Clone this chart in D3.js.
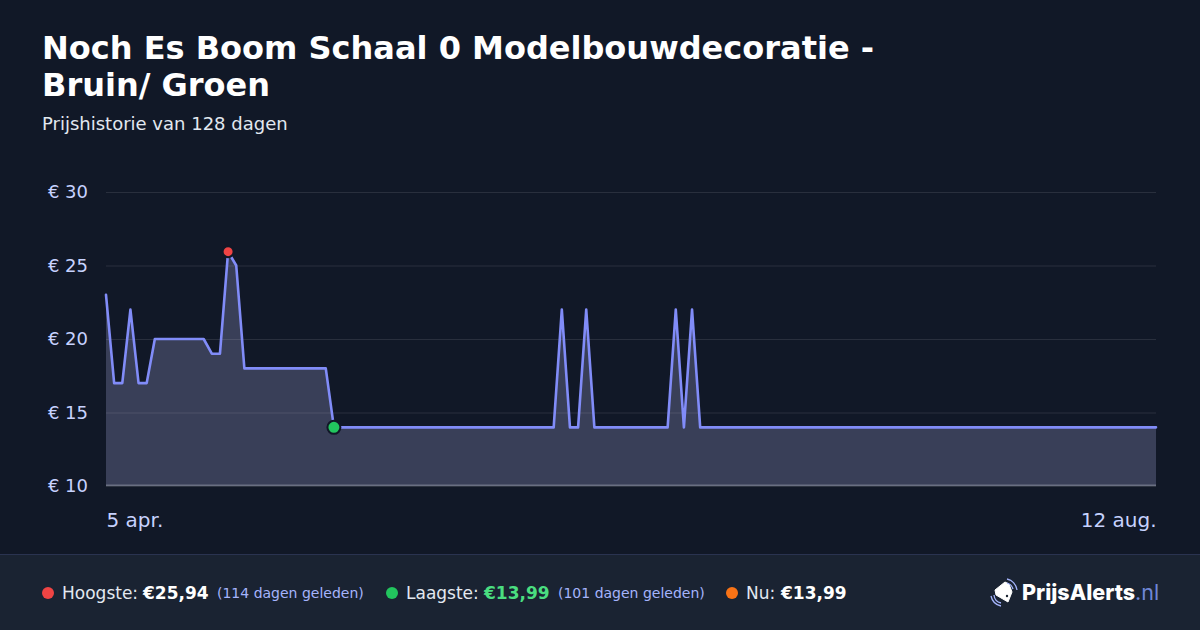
<!DOCTYPE html>
<html>
<head>
<meta charset="utf-8">
<script src="https://cdn.jsdelivr.net/npm/d3@7"></script>
<style>
  html, body { margin: 0; padding: 0; background: #111827; }
  svg { display: block; font-family: "DejaVu Sans", sans-serif; }
  .axis { font-family: "DejaVu Sans", sans-serif; }
  .axis .domain { display: none; }
  .axis .tick line { stroke: #fff; stroke-opacity: 0.1; }
  .axis .tick text { fill: #c7d2fe; font-size: 18px; }
  .x-axis .tick text { font-size: 20px; }
</style>
</head>
<body>
<svg id="chart" width="1200" height="630"></svg>
<script>
var titleLines = ["Noch Es Boom Schaal 0 Modelbouwdecoratie -", "Bruin/ Groen"];
var subtitle = "Prijshistorie van 128 dagen";

// one price per day, 5 apr. to 12 aug.
var prices = [
  23, 17, 17, 22, 17, 17, 20, 20, 20, 20,
  20, 20, 20, 19, 19, 25.94, 25, 18, 18, 18,
  18, 18, 18, 18, 18, 18, 18, 18, 13.99, 13.99,
  13.99, 13.99, 13.99, 13.99, 13.99, 13.99, 13.99, 13.99, 13.99, 13.99,
  13.99, 13.99, 13.99, 13.99, 13.99, 13.99, 13.99, 13.99, 13.99, 13.99,
  13.99, 13.99, 13.99, 13.99, 13.99, 13.99, 22, 13.99, 13.99, 22,
  13.99, 13.99, 13.99, 13.99, 13.99, 13.99, 13.99, 13.99, 13.99, 13.99,
  22, 13.99, 22, 13.99, 13.99, 13.99, 13.99, 13.99, 13.99, 13.99,
  13.99, 13.99, 13.99, 13.99, 13.99, 13.99, 13.99, 13.99, 13.99, 13.99,
  13.99, 13.99, 13.99, 13.99, 13.99, 13.99, 13.99, 13.99, 13.99, 13.99,
  13.99, 13.99, 13.99, 13.99, 13.99, 13.99, 13.99, 13.99, 13.99, 13.99,
  13.99, 13.99, 13.99, 13.99, 13.99, 13.99, 13.99, 13.99, 13.99, 13.99,
  13.99, 13.99, 13.99, 13.99, 13.99, 13.99, 13.99, 13.99, 13.99, 13.99
];
var yTicks = [10, 15, 20, 25, 30];
var xLabels = ["5 apr.", "12 aug."];

var highest = { label: "Hoogste:", price: "€25,94", ago: "(114 dagen geleden)" };
var lowest = { label: "Laagste:", price: "€13,99", ago: "(101 dagen geleden)" };
var current = { label: "Nu:", price: "€13,99" };

var svg = d3.select("#chart");
var plotLeft = 106, plotRight = 1156, plotTop = 192, plotBottom = 486;

var x = d3.scaleLinear().domain([0, prices.length - 1]).range([plotLeft, plotRight]);
var y = d3.scaleLinear().domain([10, 30]).range([plotBottom, plotTop]);

svg.append("rect").attr("width", 1200).attr("height", 630).attr("fill", "#111827");

// title block
svg.selectAll("text.title")
  .data(titleLines)
  .enter().append("text")
  .attr("class", "title")
  .attr("x", 42)
  .attr("y", function (d, i) { return 59 + i * 37; })
  .attr("fill", "#fff")
  .attr("font-size", 32)
  .attr("font-weight", 700)
  .text(function (d) { return d; });

svg.append("text")
  .attr("x", 42).attr("y", 130)
  .attr("fill", "#e2e8f0")
  .attr("font-size", 18)
  .text(subtitle);

var area = d3.area()
  .x(function (d, i) { return x(i); })
  .y0(plotBottom)
  .y1(function (d) { return y(d); });

var line = d3.line()
  .x(function (d, i) { return x(i); })
  .y(function (d) { return y(d); });

svg.append("path")
  .attr("d", area(prices))
  .attr("fill", "#999aca")
  .attr("fill-opacity", 0.3);

// y axis with gridlines, over the area
var yAxis = d3.axisLeft(y)
  .tickValues(yTicks)
  .tickSize(-(plotRight - plotLeft))
  .tickPadding(18)
  .tickFormat(function (d) { return "€ " + d; });

var yg = svg.append("g")
  .attr("class", "axis")
  .attr("transform", "translate(" + plotLeft + ",0)")
  .call(yAxis);

// bottom gridline is the baseline, a bit stronger
yg.selectAll(".tick line")
  .filter(function (d) { return d === 10; })
  .attr("y1", -1)
  .attr("y2", -1)
  .style("stroke-opacity", 0.25)
  .style("stroke-width", 2);

// x labels only at both ends
var xAxis = d3.axisBottom(x)
  .tickValues([0, prices.length - 1])
  .tickSize(0)
  .tickPadding(27)
  .tickFormat(function (d, i) { return xLabels[i]; });

var xg = svg.append("g")
  .attr("class", "axis x-axis")
  .attr("transform", "translate(0," + plotBottom + ")")
  .call(xAxis);
xg.selectAll(".tick text")
  .attr("text-anchor", function (d, i) { return i === 0 ? "start" : "end"; });

svg.append("path")
  .attr("d", line(prices))
  .attr("fill", "none")
  .attr("stroke", "#818cf8")
  .attr("stroke-width", 2.6)
  .attr("stroke-linejoin", "round")
  .attr("stroke-linecap", "round");

// markers for max and min
var maxIndex = prices.indexOf(d3.max(prices));
var minIndex = prices.indexOf(d3.min(prices));

svg.append("circle")
  .attr("cx", x(maxIndex)).attr("cy", y(prices[maxIndex])).attr("r", 5.5)
  .attr("fill", "#ef4444").attr("stroke", "#111827").attr("stroke-width", 2);
svg.append("circle")
  .attr("cx", x(minIndex)).attr("cy", y(prices[minIndex])).attr("r", 6.5)
  .attr("fill", "#22c55e").attr("stroke", "#111827").attr("stroke-width", 2);

// footer
svg.append("rect")
  .attr("x", 0).attr("y", 554).attr("width", 1200).attr("height", 76)
  .attr("fill", "#1a2332");
svg.append("rect")
  .attr("x", 0).attr("y", 554).attr("width", 1200).attr("height", 1)
  .attr("fill", "#2a3350");

function stat(dotX, color, item, labelX, priceX, priceColor, agoX) {
  svg.append("circle").attr("cx", dotX).attr("cy", 593).attr("r", 6).attr("fill", color);
  svg.append("text").attr("x", labelX).attr("y", 599)
    .attr("fill", "#e2e8f0").attr("font-size", 17).text(item.label);
  svg.append("text").attr("x", priceX).attr("y", 599)
    .attr("fill", priceColor).attr("font-size", 17).attr("font-weight", 700).text(item.price);
  if (item.ago) {
    svg.append("text").attr("x", agoX).attr("y", 598)
      .attr("fill", "#a5b4fc").attr("font-size", 14).text(item.ago);
  }
}
stat(48, "#ef4444", highest, 62, 143, "#fff", 217);
stat(392, "#22c55e", lowest, 406, 484, "#4ade80", 558);
stat(732, "#f97316", current, 746, 781, "#fff");

// logo
var logo = svg.append("g").attr("transform", "translate(990,578)");
logo.append("path")
  .attr("d", "M15 4 L5 12 L6 17 L18 24 L22 14 L19 6 Z")
  .attr("fill", "#fff")
  .attr("stroke", "#fff")
  .attr("stroke-linejoin", "round");
logo.append("circle").attr("cx", 17).attr("cy", 18).attr("r", 1.2).attr("fill", "#1a2332");
logo.append("path")
  .attr("d", "M17 1 A13 13 0 0 1 27 12 M17 5 A9 9 0 0 1 23 11 M1 18 A13 13 0 0 0 11 28 M4 17 A9 9 0 0 0 11 25")
  .attr("fill", "none").attr("stroke", "#a5b4fc").attr("stroke-width", 1.3);

var logoText = svg.append("text")
  .attr("x", 1022).attr("y", 600)
  .attr("font-family", "Inter")
  .attr("font-size", 21.5)
  .attr("font-weight", 800)
  .attr("fill", "#fff");
logoText.append("tspan").text("PrijsAlerts");
logoText.append("tspan").attr("fill", "#6f86d6").attr("font-weight", 400).text(".nl");
</script>
</body>
</html>
